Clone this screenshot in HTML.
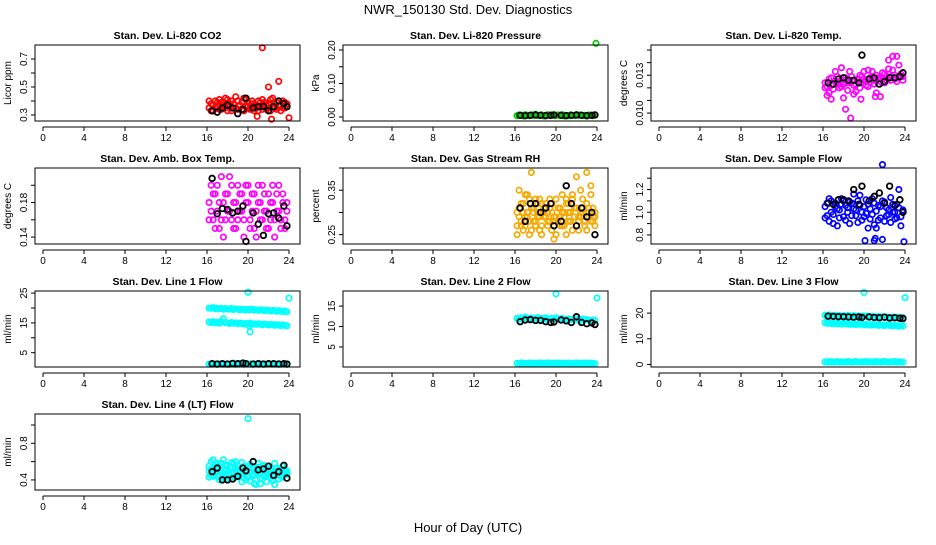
<!DOCTYPE html>
<html><head><meta charset="utf-8"><style>
html,body{margin:0;padding:0;background:#fff}
svg text{font-family:"Liberation Sans",Arial,sans-serif}
</style></head><body>
<svg id="chart" width="936" height="540" viewBox="0 0 936 540" xmlns="http://www.w3.org/2000/svg">
<rect x="0" y="0" width="936" height="540" fill="#fff"/>
<text x="468" y="14" text-anchor="middle" font-size="13">NWR_150130  Std. Dev. Diagnostics</text>
<text x="468" y="532" text-anchor="middle" font-size="13">Hour of Day (UTC)</text>
</svg>
<script>
const xTicks=[0,4,8,12,16,20,24];
const H=[16.2,16.4,16.6,16.8,17.0,17.2,17.4,17.6,17.8,18.0,18.2,18.4,18.6,18.8,19.0,19.2,19.4,19.6,19.8,20.0,20.2,20.4,20.6,20.8,21.0,21.2,21.4,21.6,21.8,22.0,22.2,22.4,22.6,22.8,23.0,23.2,23.4,23.6,23.8];
const HB=[16.5,17.0,17.5,18.0,18.5,19.0,19.5,19.8,20.5,21.0,21.5,22.0,22.5,23.0,23.5,23.8];

const co2A=[.35,.38,.33,.40,.36,.34,.39,.37,.35,.41,.36,.33,.38,.35,.40,.37,.34,.42,.36,.39,.35,.38,.33,.37,.40,.36,.34,.39,.37,.35,.41,.36,.38,.34,.40,.37,.35,.39,.36];
const co2B=[.40,.33,.37,.35,.39,.41,.34,.36,.42,.33,.38,.40,.35,.43,.34,.37,.39,.33,.41,.36,.34,.40,.37,.35,.33,.39,.41,.36,.34,.38,.33,.42,.35,.39,.37,.33,.40,.35,.38];
const co2OutH=[21.4,22.0,23.0,24.0,22.3,20.9];
const co2OutV=[.78,.50,.54,.28,.27,.29];
const co2Black=[.33,.32,.35,.37,.35,.31,.34,.42,.35,.36,.36,.33,.36,.40,.38,.36];

const presA=[.004,.006,.005,.003,.007,.005,.004,.006,.005,.008,.004,.005,.006,.003,.005,.007,.004,.006,.005,.004,.006,.005,.007,.003,.005,.004,.006,.005,.004,.007,.005,.006,.004,.005,.003,.006,.005,.004,.006];
const presOutH=[23.9];
const presOutV=[.22];
const presBlack=[.005,.004,.005,.006,.005,.004,.005,.006,.005,.004,.005,.006,.005,.004,.005,.006];

const tempA=[12.4,12.1,11.6,12.8,12.3,13.3,12.5,12.0,13.6,12.3,12.6,11.8,12.4,12.9,12.2,11.7,12.6,13.0,12.4,12.7,12.2,13.4,12.5,12.9,12.3,11.6,12.8,12.5,12.7,13.1,12.6,14.2,12.9,13.4,12.7,14.5,12.8,13.1,12.9];
const tempB=[12.0,11.4,12.7,12.2,11.9,12.5,12.9,12.3,12.1,11.2,12.8,12.4,13.3,12.6,11.5,12.3,12.7,12.0,12.9,13.3,12.5,12.1,12.8,13.3,12.6,13.0,12.3,12.7,13.2,12.4,12.9,13.5,12.6,14.5,13.0,12.5,13.8,12.9,12.6];
const tempOutH=[18.2,18.7,21.1,21.6,16.8,19.7];
const tempOutV=[10.3,9.6,11.3,11.3,11.1,11.1];
const tempBlack=[12.4,12.3,12.7,12.8,12.6,12.6,12.4,14.6,12.7,12.8,12.3,12.5,12.8,12.8,12.9,13.2];

const ambA=[.18,.20,.16,.19,.17,.15,.21,.18,.16,.19,.17,.20,.15,.18,.16,.19,.17,.14,.20,.18,.16,.19,.15,.17,.20,.18,.16,.19,.17,.15,.18,.20,.16,.19,.17,.15,.18,.16,.17];
const ambB=[.16,.17,.19,.15,.20,.18,.16,.14,.19,.17,.21,.16,.18,.15,.20,.17,.19,.16,.18,.20,.15,.17,.19,.14,.18,.16,.20,.17,.15,.19,.16,.18,.14,.17,.20,.16,.19,.15,.18];
const ambBlack=[.208,.167,.173,.172,.168,.170,.176,.135,.168,.155,.142,.167,.168,.162,.176,.153];

const rhA=[.30,.35,.27,.32,.29,.34,.25,.31,.28,.33,.30,.26,.32,.29,.31,.27,.33,.30,.28,.25,.31,.29,.34,.27,.32,.30,.28,.33,.29,.31,.26,.35,.30,.28,.32,.29,.34,.31,.29];
const rhB=[.27,.29,.32,.26,.34,.30,.28,.39,.31,.27,.29,.33,.25,.30,.32,.28,.31,.26,.29,.33,.28,.31,.27,.30,.25,.32,.28,.34,.31,.27,.29,.30,.33,.28,.26,.31,.36,.28,.30];
const rhC=[.25,.31,.28,.30,.27,.29,.33,.26,.30,.28,.32,.29,.27,.31,.29,.30,.28,.32,.24,.29,.31,.27,.30,.29,.33,.28,.30,.26,.31,.38,.28,.29,.31,.27,.39,.30,.28,.29,.27];
const rhBlack=[.31,.28,.32,.32,.30,.31,.32,.27,.28,.36,.32,.27,.31,.29,.30,.25];

const flowA=[.95,1.08,.92,1.10,.98,1.05,.88,1.02,1.12,.96,1.06,1.00,.90,1.08,1.03,.97,1.10,1.15,.93,1.05,.99,1.07,.94,1.12,.89,1.01,1.06,.95,1.10,.92,1.04,.98,1.13,1.00,.94,1.07,1.20,.96,1.02];
const flowB=[1.05,.97,1.12,1.00,.90,1.08,1.03,.95,1.07,1.10,.93,1.04,1.09,.97,1.16,1.02,.91,1.06,1.00,.96,1.11,.86,1.03,.98,1.08,.86,.93,1.05,.76,1.09,.97,1.02,.91,1.07,1.00,.95,1.04,.88,1.01];
const flowOutH=[20.1,21.0,21.1,21.8,23.9];
const flowOutV=[.75,.75,.77,1.42,.74];
const flowBlack=[1.08,1.07,1.11,1.11,1.10,1.20,1.07,1.23,1.10,1.14,1.17,1.08,1.23,1.06,1.11,1.00];

const l1A=[20.0,19.9,20.1,19.8,19.9,19.7,19.9,19.6,19.8,19.7,19.6,19.8,19.5,19.7,19.6,19.4,19.6,19.5,19.3,19.5,19.4,19.6,19.3,19.4,19.2,19.4,19.3,19.1,19.3,19.2,19.0,19.2,19.1,18.9,19.1,19.0,18.8,19.0,18.7];
const l1B=[15.3,15.1,15.4,15.0,15.2,14.9,15.5,16.4,15.1,15.0,14.8,15.1,14.9,15.0,14.7,14.9,14.8,14.6,14.8,14.7,14.9,14.6,14.7,14.5,14.7,14.6,14.4,14.6,14.5,14.3,14.5,14.4,14.2,14.4,14.3,14.1,14.3,14.2,14.0];
const l1C=[1.2,1.1,1.3,1.2,1.1,1.2,1.3,1.1,1.2,1.2,1.1,1.3,1.2,1.1,1.2,1.3,1.2,1.1,1.2,1.2,1.3,1.1,1.2,1.2,1.1,1.3,1.2,1.1,1.2,1.3,1.2,1.1,1.2,1.2,1.3,1.1,1.2,1.2,1.1];
const l1OutH=[20.0,24.0,20.2,20.1];
const l1OutV=[25.3,23.3,12.0,14.0];
const l1Black=[1.3,1.2,1.3,1.2,1.4,1.3,1.5,1.3,1.2,1.3,1.2,1.3,1.3,1.2,1.3,1.2];

const l2A=[12.0,11.8,12.1,11.9,12.3,12.0,11.8,12.1,11.9,12.0,12.2,11.8,12.0,11.9,12.1,11.7,11.9,12.0,11.8,12.1,11.9,11.7,12.0,11.8,11.6,11.9,11.7,11.8,11.6,11.9,11.7,11.5,11.8,11.6,11.7,11.5,11.4,11.6,11.5];
const l2B=[1.0,0.9,1.1,1.0,0.9,1.0,1.1,0.9,1.0,1.0,0.9,1.1,1.0,0.9,1.0,1.1,1.0,0.9,1.0,1.0,1.1,0.9,1.0,1.0,0.9,1.1,1.0,0.9,1.0,1.1,1.0,0.9,1.0,1.0,1.1,0.9,1.0,1.0,0.9];
const l2OutH=[20.0,24.0];
const l2OutV=[18.0,17.0];
const l2Black=[11.2,11.6,11.7,11.5,11.5,11.2,11.0,11.1,11.6,11.4,11.0,12.4,11.0,10.7,10.9,10.5];

const l3A=[19.2,19.0,19.3,19.1,18.9,19.2,19.0,19.1,18.8,19.0,18.9,19.1,18.8,18.9,19.0,18.7,18.9,18.8,18.6,18.9,18.7,18.8,18.5,18.7,18.6,18.4,18.7,18.5,18.6,18.3,18.5,18.4,18.2,18.5,18.3,18.4,18.1,18.3,18.2];
const l3B=[16.3,16.0,16.2,15.9,16.1,15.8,16.0,15.9,15.7,16.0,15.8,15.9,15.6,15.8,15.7,15.5,15.8,15.6,15.7,15.4,15.6,15.5,15.3,15.6,15.4,15.5,15.2,15.4,15.3,15.1,15.4,15.2,15.3,15.0,15.2,15.1,14.9,15.1,15.0];
const l3C=[1.0,0.9,1.1,1.0,0.9,1.0,1.1,0.9,1.0,1.0,0.9,1.1,1.0,0.9,1.0,1.1,1.0,0.9,1.0,1.0,1.1,0.9,1.0,1.0,0.9,1.1,1.0,0.9,1.0,1.1,1.0,0.9,1.0,1.0,1.1,0.9,1.0,1.0,0.9];
const l3OutH=[20.0,24.0];
const l3OutV=[28.0,26.0];
const l3Black=[18.8,18.7,18.6,18.6,18.5,18.4,18.5,18.3,18.5,18.3,18.2,18.4,18.1,18.2,18.0,17.9];

const l4A=[.55,.45,.62,.48,.52,.40,.58,.44,.50,.56,.42,.53,.47,.60,.45,.51,.38,.55,.49,.43,.57,.46,.52,.35,.54,.48,.41,.56,.50,.45,.53,.39,.58,.47,.51,.44,.55,.49,.46];
const l4B=[.43,.60,.50,.57,.44,.55,.48,.62,.41,.47,.54,.49,.58,.43,.52,.46,.59,.42,.50,.55,.39,.53,.45,.49,.58,.36,.51,.44,.48,.55,.42,.50,.46,.53,.41,.48,.44,.52,.47];
const l4C=[.50,.52,.44,.54,.58,.46,.51,.42,.56,.48,.45,.59,.43,.50,.55,.48,.52,.46,.40,.53,.49,.44,.36,.50,.47,.42,.55,.45,.38,.51,.48,.46,.35,.50,.45,.52,.43,.47,.50];
const l4OutH=[20.0];
const l4OutV=[1.07];
const l4Black=[.49,.53,.40,.40,.41,.44,.53,.50,.60,.51,.52,.55,.45,.49,.56,.42];

const NS='http://www.w3.org/2000/svg';
const svg=document.getElementById('chart');
function el(tag,attrs,parent){const e=document.createElementNS(NS,tag);for(const k in attrs)e.setAttribute(k,attrs[k]);(parent||svg).appendChild(e);return e;}

const panels=[
 {name:'co2',title:'Stan. Dev. Li-820 CO2',ylab:'Licor ppm',col:0,row:0,ymin:0.257,ymax:0.80,ticks:[0.3,0.4,0.5,0.6,0.7],labels:['0.3','','0.5','','0.7'],color:'#ff0000',
  series:[[H,co2A],[H,co2B],[co2OutH,co2OutV]],black:[HB,co2Black]},
 {name:'pressure',title:'Stan. Dev. Li-820 Pressure',ylab:'kPa',col:1,row:0,ymin:-0.012,ymax:0.215,ticks:[0,0.05,0.1,0.15,0.2],labels:['0.00','','0.10','','0.20'],color:'#00cc00',
  series:[[H,presA],[presOutH,presOutV]],black:[HB,presBlack]},
 {name:'li820-temp',title:'Stan. Dev. Li-820 Temp.',ylab:'degrees C',col:2,row:0,ymin:9.37,ymax:15.4,ticks:[10,11,12,13,14,15],labels:['0.010','','','0.013','',''],color:'#ff00ff',
  series:[[H,tempA],[H,tempB],[tempOutH,tempOutV]],black:[HB,tempBlack]},
 {name:'amb-box-temp',title:'Stan. Dev. Amb. Box Temp.',ylab:'degrees C',col:0,row:1,ymin:0.132,ymax:0.22,ticks:[0.14,0.16,0.18,0.20],labels:['0.14','','0.18',''],color:'#ff00ff',
  series:[[H,ambA],[H,ambB]],black:[HB,ambBlack]},
 {name:'gas-stream-rh',title:'Stan. Dev. Gas Stream RH',ylab:'percent',col:1,row:1,ymin:0.229,ymax:0.40,ticks:[0.25,0.30,0.35,0.40],labels:['0.25','','0.35',''],color:'#f5a800',
  series:[[H,rhA],[H,rhB],[H,rhC]],black:[HB,rhBlack]},
 {name:'sample-flow',title:'Stan. Dev. Sample Flow',ylab:'ml/min',col:2,row:1,ymin:0.72,ymax:1.39,ticks:[0.8,0.9,1.0,1.1,1.2,1.3],labels:['0.8','','1.0','','1.2',''],color:'#0000ff',
  series:[[H,flowA],[H,flowB],[flowOutH,flowOutV]],black:[HB,flowBlack]},
 {name:'line1-flow',title:'Stan. Dev. Line 1 Flow',ylab:'ml/min',col:0,row:2,ymin:0.2,ymax:25.7,ticks:[5,10,15,20,25],labels:['5','','15','','25'],color:'#00ffff',
  series:[[H,l1A],[H,l1B],[H,l1C],[l1OutH,l1OutV]],black:[HB,l1Black]},
 {name:'line2-flow',title:'Stan. Dev. Line 2 Flow',ylab:'ml/min',col:1,row:2,ymin:0.1,ymax:18.7,ticks:[5,10,15],labels:['5','10','15'],color:'#00ffff',
  series:[[H,l2A],[H,l2B],[l2OutH,l2OutV]],black:[HB,l2Black]},
 {name:'line3-flow',title:'Stan. Dev. Line 3 Flow',ylab:'ml/min',col:2,row:2,ymin:-1.0,ymax:28.6,ticks:[0,10,20],labels:['0','10','20'],color:'#00ffff',
  series:[[H,l3A],[H,l3B],[H,l3C],[l3OutH,l3OutV]],black:[HB,l3Black]},
 {name:'line4-flow',title:'Stan. Dev. Line 4 (LT) Flow',ylab:'ml/min',col:0,row:3,ymin:0.29,ymax:1.12,ticks:[0.4,0.6,0.8,1.0],labels:['0.4','','0.8',''],color:'#00ffff',
  series:[[H,l4A],[H,l4B],[H,l4C],[l4OutH,l4OutV]],black:[HB,l4Black]}
];

panels.forEach(p=>{
  const L=35+p.col*308, T=45+p.row*123, W=265, Ht=76, B=T+Ht;
  const g=el('g',{});
  
  
  const xs=h=>L+8+h*(246/24);
  const ys=v=>B-(v-p.ymin)/(p.ymax-p.ymin)*Ht;
  const t=el('text',{x:L+W/2,y:T-6,'text-anchor':'middle','font-size':'10.5','font-weight':'bold'},g);
  t.textContent=p.title;
  
  
  // x axis
  const xa=el('g',{},g);
  
  
  el('line',{x1:xs(0),x2:xs(24),y1:B+6,y2:B+6,stroke:'#000','stroke-width':1},xa);
  xTicks.forEach(h=>{
    el('line',{x1:xs(h),x2:xs(h),y1:B+6,y2:B+10,stroke:'#000','stroke-width':1},xa);
    const tl=el('text',{x:xs(h),y:B+20,'text-anchor':'middle','font-size':'10'},xa);
    tl.textContent=h;
  });
  // y axis
  const ya=el('g',{},g);
  
  
  el('line',{x1:L,x2:L,y1:ys(p.ticks[0]),y2:ys(p.ticks[p.ticks.length-1]),stroke:'#000','stroke-width':1},ya);
  p.ticks.forEach((v,i)=>{
    el('line',{x1:L-4,x2:L,y1:ys(v),y2:ys(v),stroke:'#000','stroke-width':1},ya);
    if(p.labels[i]){
      const yl=el('text',{x:0,y:0,transform:`translate(${L-8},${ys(v)}) rotate(-90)`,'text-anchor':'middle','font-size':'10'},ya);
      yl.textContent=p.labels[i];
    }
  });
  const yt=el('text',{transform:`translate(${L-24},${T+Ht/2}) rotate(-90)`,'text-anchor':'middle','font-size':'10'},g);
  yt.textContent=p.ylab;
  
  
  // points
  const pts=el('g',{},g);
  
  
  p.series.forEach(([hs,vs])=>{
    hs.forEach((h,i)=>{
      const c=el('circle',{cx:xs(h),cy:ys(vs[i]),r:2.7,fill:'none',stroke:p.color,'stroke-width':1.7},pts);
      
      
    });
  });
  const [bh,bv]=p.black;
  bh.forEach((h,i)=>{
    const c=el('circle',{cx:xs(h),cy:ys(bv[i]),r:2.8,fill:'none',stroke:'#000','stroke-width':1.8},pts);
    
    
  });
  // box
  el('rect',{x:L,y:T,width:W,height:Ht,fill:'none',stroke:'#000','stroke-width':1},g);
});
</script>
</body></html>
